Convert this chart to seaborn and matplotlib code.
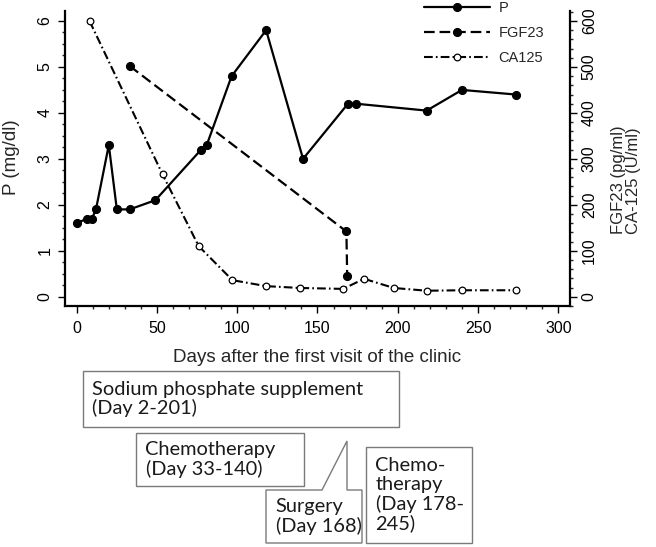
import numpy as np
import matplotlib
matplotlib.use("Agg")
import matplotlib.pyplot as plt
import matplotlib.patches as mpatches
from matplotlib.ticker import MultipleLocator
import seaborn as sns

# ── Data ────────────────────────────────────────────────
p_days = [0, 6.5, 9.5, 12, 20, 25, 33, 49, 77.5, 81, 96.5, 118, 141, 169, 174, 218, 240, 273.5]
p_vals = [1.6, 1.7, 1.7, 1.9, 3.3, 1.9, 1.9, 2.1, 3.2, 3.3, 4.8, 5.8, 3.0, 4.2, 4.2, 4.05, 4.5, 4.4]

fgf_days = [33, 168, 168.5]
fgf_vals = [502, 142, 45]

ca_days = [8, 53.5, 76, 97, 118, 139, 166, 179, 197.5, 218, 240, 273.5]
ca_vals = [600, 266, 110, 36, 23, 19, 17, 39, 19, 13, 14, 14]

box_texts = ["Sodium phosphate supplement\n(Day 2-201)",
             "Chemotherapy\n(Day 33-140)",
             "Surgery\n(Day 168)",
             "Chemo-\ntherapy\n(Day 178-\n245)"]

# ── Style ────────────────────────────────────────────────
W, H = 656, 547
sns.set_style("ticks")
plt.rcParams['font.family'] = ['Liberation Sans', 'DejaVu Sans']
plt.rcParams['axes.linewidth'] = 1.5

def fx(x):
    return x / W

def fy(y):
    return 1 - y / H

fig = plt.figure(figsize=(W / 100, H / 100), dpi=100)
ax = fig.add_axes([fx(65), fy(306), (570 - 65) / W, (306 - 11) / H])
ax2 = ax.twinx()

# ── Lines ────────────────────────────────────────────────
sns.lineplot(x=p_days, y=p_vals, ax=ax, estimator=None, sort=False,
             color='black', lw=1.6, marker='o', markersize=5.8,
             markeredgecolor='black', label='P', legend=False)
sns.lineplot(x=fgf_days, y=fgf_vals, ax=ax2, estimator=None, sort=False,
             color='black', lw=1.6, linestyle=(0, (4.8, 2.2)),
             marker='o', markersize=5.8, markeredgecolor='black',
             label='FGF23', legend=False)
sns.lineplot(x=ca_days, y=ca_vals, ax=ax2, estimator=None, sort=False,
             color='black', lw=1.5, linestyle=(0, (4.2, 1.5, 0.8, 1.5)),
             marker='o', markersize=4.8, markerfacecolor='white',
             markeredgecolor='black', markeredgewidth=0.9,
             label='CA125', legend=False)

# ── Axes ─────────────────────────────────────────────────
x0, x1 = (65 - 76.7) / 1.6053, (570 - 76.7) / 1.6053
y0, y1 = (296.7 - 306) / 45.95, (296.7 - 11) / 45.95
ax.set_xlim(x0, x1)
ax.set_ylim(y0, y1)
ax2.set_ylim(y0 * 100, y1 * 100)

ax.xaxis.set_major_locator(MultipleLocator(50))
ax.xaxis.set_minor_locator(MultipleLocator(10))
ax.yaxis.set_major_locator(MultipleLocator(1))
ax.yaxis.set_minor_locator(MultipleLocator(0.25))
ax2.yaxis.set_major_locator(MultipleLocator(100))
ax2.yaxis.set_minor_locator(MultipleLocator(20))

for a in (ax, ax2):
    a.tick_params(which='major', direction='out', length=5, width=1,
                  labelsize=11.5, colors='black')
    a.tick_params(which='minor', direction='out', length=2.5, width=1)
    a.spines['top'].set_visible(False)
    for s in a.spines.values():
        s.set_linewidth(1.6)
        s.set_color('black')
ax.spines['right'].set_visible(False)
ax2.spines['left'].set_visible(False)
ax2.spines['bottom'].set_visible(False)

ax.tick_params(axis='x', pad=5.5)
ax.tick_params(axis='y', pad=4)
ax2.tick_params(axis='y', pad=3.5)
for lab in ax.get_yticklabels() + ax2.get_yticklabels():
    lab.set_rotation(90)
    lab.set_va('center')

ax.set_xlabel('')
ax.set_ylabel('')
ax2.set_ylabel('')
fig.text(fx(12), fy(157), 'P (mg/dl)', rotation=90,
         ha='center', va='center', fontsize=13.5)
fig.text(fx(626), fy(180), 'FGF23 (pg/ml)\nCA-125 (U/ml)', rotation=90,
         ha='center', va='center', multialignment='left', fontsize=12,
         linespacing=1.0)
fig.text(fx(317), fy(357), 'Days after the first visit of the clinic',
         ha='center', va='center', fontsize=13.5)

# ── Legend ───────────────────────────────────────────────
h1, l1 = ax.get_legend_handles_labels()
h2, l2 = ax2.get_legend_handles_labels()
fig.legend(h1 + h2, l1 + l2, loc='upper left',
           bbox_to_anchor=(fx(424), fy(1)), frameon=False, fontsize=10.5,
           handlelength=4.5, handletextpad=0.6, labelspacing=0.75,
           borderpad=0, borderaxespad=0)

# ── Treatment boxes ──────────────────────────────────────
edge = '#7a7a7a'
box_font = ['Lato', 'DejaVu Sans']
boxes = [(83, 371, 399, 427), (136, 433, 304, 485.5),
         (266, 490, 362, 543), (366, 447, 472, 543)]

for i, (bx0, by0, bx1, by1) in enumerate(boxes):
    if i == 2:
        # surgery box with a callout pointer
        pts = [(bx0, by0), (322, by0), (347, 441), (347, by0),
               (bx1, by0), (bx1, by1), (bx0, by1)]
        patch = mpatches.Polygon([(fx(a), fy(b)) for a, b in pts],
                                 closed=True, transform=fig.transFigure,
                                 facecolor='white', edgecolor=edge, lw=1)
    else:
        patch = mpatches.Rectangle((fx(bx0), fy(by1)), (bx1 - bx0) / W,
                                   (by1 - by0) / H, transform=fig.transFigure,
                                   facecolor='white', edgecolor=edge, lw=1)
    fig.add_artist(patch)
    fig.text(fx(bx0 + 9.5), fy((by0 + by1) / 2), box_texts[i],
             ha='left', va='center', fontsize=14.4, family=box_font,
             color='#1a1a1a', linespacing=1.12)

plt.savefig('out.png', dpi=100)
